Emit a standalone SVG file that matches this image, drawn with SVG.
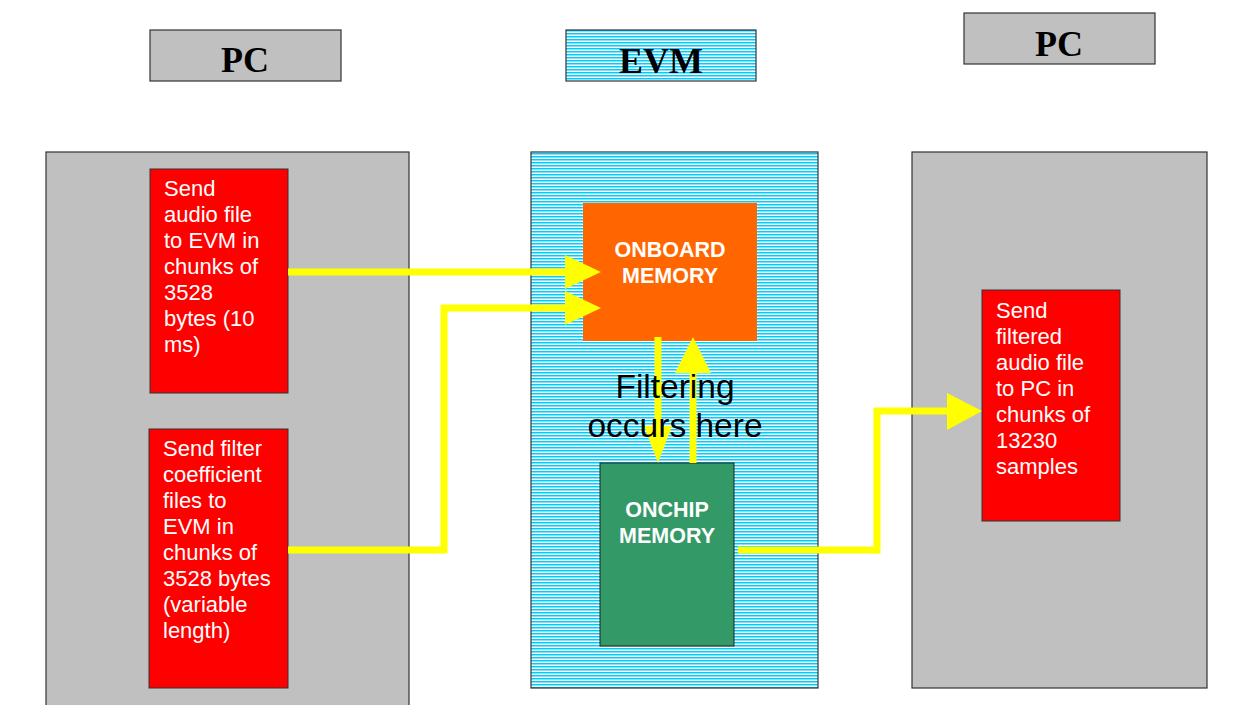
<svg xmlns="http://www.w3.org/2000/svg" width="1254" height="705" viewBox="0 0 1254 705">
<defs>
<pattern id="hatch" x="0" y="0" width="8" height="3" patternUnits="userSpaceOnUse">
<rect width="8" height="3" fill="#ffffff"/>
<rect y="0" width="8" height="1.5" fill="#00ccff"/>
</pattern>
</defs>
<style>
.title{font-family:"Liberation Serif",serif;font-weight:bold;font-size:36px;fill:#000;text-anchor:middle}
.panel{stroke:#333;stroke-width:1.2}
.gray{fill:#c0c0c0}
.red{fill:#ff0000;stroke:#333;stroke-width:1}
.wt{font-family:"Liberation Sans",Arial,sans-serif;font-size:22px;fill:#fff}
.bt{font-family:"Liberation Sans",Arial,sans-serif;font-size:21.5px;font-weight:bold;fill:#fff;text-anchor:middle}
.conn{fill:none;stroke:#ffff00;stroke-width:7}
.head{fill:#ffff00}
</style>
<rect width="1254" height="705" fill="#ffffff"/>

<g id="pc-left-title">
<rect x="150" y="30" width="191" height="51" class="panel gray" stroke-width="1.5"/>
<text x="245" y="72" class="title">PC</text>
</g>
<g id="evm-title">
<rect x="566" y="30" width="190" height="51" fill="url(#hatch)" class="panel" stroke-width="1.5"/>
<text x="661" y="73" class="title">EVM</text>
</g>
<g id="pc-right-title">
<rect x="964" y="13" width="191" height="51" class="panel gray" stroke-width="1.5"/>
<text x="1059" y="56" class="title">PC</text>
</g>

<g id="pc-left-panel">
<rect x="46" y="152" width="363" height="560" class="panel gray"/>
</g>
<g id="evm-panel">
<rect x="531" y="152" width="287" height="536" fill="url(#hatch)" class="panel"/>
</g>
<g id="pc-right-panel">
<rect x="912" y="152" width="295" height="536" class="panel gray"/>
</g>

<g id="send-audio">
<rect x="150" y="169" width="138" height="224" class="red"/>
<text class="wt" x="164" y="196">Send</text>
<text class="wt" x="164" y="222">audio file</text>
<text class="wt" x="164" y="248">to EVM in</text>
<text class="wt" x="164" y="274">chunks of</text>
<text class="wt" x="164" y="300">3528</text>
<text class="wt" x="164" y="326">bytes (10</text>
<text class="wt" x="164" y="352">ms)</text>
</g>

<g id="send-coeff">
<rect x="149" y="429" width="139" height="259" class="red" stroke="none"/>
<text class="wt" x="163" y="456">Send filter</text>
<text class="wt" x="163" y="482">coefficient</text>
<text class="wt" x="163" y="508">files to</text>
<text class="wt" x="163" y="534">EVM in</text>
<text class="wt" x="163" y="560">chunks of</text>
<text class="wt" x="163" y="586">3528 bytes</text>
<text class="wt" x="163" y="612">(variable</text>
<text class="wt" x="163" y="638">length)</text>
</g>

<g id="send-filtered">
<rect x="982" y="290" width="138" height="231" class="red"/>
<text class="wt" x="996" y="318">Send</text>
<text class="wt" x="996" y="344">filtered</text>
<text class="wt" x="996" y="370">audio file</text>
<text class="wt" x="996" y="396">to PC in</text>
<text class="wt" x="996" y="422">chunks of</text>
<text class="wt" x="996" y="448">13230</text>
<text class="wt" x="996" y="474">samples</text>
</g>

<g id="onboard-memory">
<rect x="583" y="203" width="174" height="138" fill="#ff6600"/>
<text class="bt" x="670" y="257">ONBOARD</text>
<text class="bt" x="670" y="283">MEMORY</text>
</g>

<g id="onchip-memory">
<rect x="600" y="463" width="134" height="183" fill="#339966" stroke="#222" stroke-width="1"/>
<text class="bt" x="667" y="517">ONCHIP</text>
<text class="bt" x="667" y="543">MEMORY</text>
</g>

<g id="connectors">
<polyline class="conn" points="288,272 566,272"/>
<polygon class="head" points="565,255 601,272 565,289"/>
<polyline class="conn" points="288,550 444,550 444,308 566,308"/>
<polygon class="head" points="565,291 601,308 565,325"/>
<polyline class="conn" points="658,337 658,427"/>
<polygon class="head" points="644,426 672,426 658,463"/>
<polyline class="conn" points="693,463 693,372"/>
<polygon class="head" points="675,373 711,373 693,337"/>
<polyline class="conn" points="738,550 877,550 877,411 948,411"/>
<polygon class="head" points="947,393 982,411 947,430"/>
</g>

<g id="filtering-label">
<text x="675" y="398" font-family="Liberation Sans, Arial, sans-serif" font-size="33.5" fill="#000" text-anchor="middle">Filtering</text>
<text x="675" y="437" font-family="Liberation Sans, Arial, sans-serif" font-size="33.5" fill="#000" text-anchor="middle">occurs here</text>
</g>
</svg>
